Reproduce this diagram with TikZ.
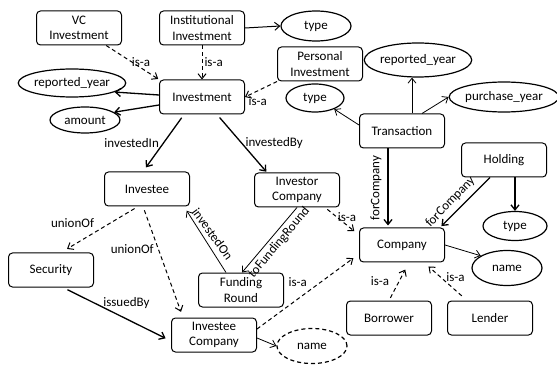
\documentclass[tikz,border=0pt]{standalone}
\usepackage{fontspec}
\setmainfont{Carlito}
\usetikzlibrary{shapes.geometric,arrows.meta}
\begin{document}
\begin{tikzpicture}[x=1pt,y=-1pt,
  font=\fontsize{13}{15.5}\selectfont,
  ent/.style={draw, rounded corners=4pt, line width=1pt, minimum width=85pt, minimum height=34pt, align=center, inner sep=1pt},
  attr/.style={draw, ellipse, line width=1.2pt, inner sep=0pt},
  dattr/.style={attr, dash pattern=on 4pt off 3pt},
  arr/.style={-{Straight Barb[length=5pt,width=8pt]}, line width=1.3pt},
  medarr/.style={-{Straight Barb[length=5pt,width=8pt]}, line width=1pt},
  thinarr/.style={-{Straight Barb[length=5pt,width=8pt]}, line width=0.8pt},
  isa/.style={-{Straight Barb[length=5pt,width=8pt]}, line width=1pt, dash pattern=on 4pt off 3pt},
  lbl/.style={inner sep=1pt, font=\fontsize{13}{14}\selectfont}
]
\useasboundingbox (0,0) rectangle (557,366);
% nodes
\node[ent] (vc) at (79,28) {VC\\Investment};
\node[ent] (inst) at (202,28) {Institutional\\Investment};
\node[attr, minimum width=70pt, minimum height=30pt] (type1) at (316,26) {type};
\node[ent] (pers) at (320,64) {Personal\\Investment};
\node[attr, minimum width=104pt, minimum height=34pt] (ry2) at (418,60) {reported\_year};
\node[attr, minimum width=100pt, minimum height=30pt] (pyear) at (504,97) {purchase\_year};
\node[attr, minimum width=58pt, minimum height=28pt] (type2) at (315,98) {type};
\node[ent] (trans) at (402,131) {Transaction};
\node[ent] (inv) at (202,97) {Investment};
\node[attr, minimum width=103pt, minimum height=28pt] (ry1) at (72,83) {reported\_year};
\node[attr, minimum width=70pt, minimum height=26pt] (amount) at (85,120) {amount};
\node[ent] (investee) at (147,189) {Investee};
\node[ent] (invcomp) at (297,190) {Investor\\Company};
\node[ent] (holding) at (504,160) {Holding};
\node[attr, minimum width=64pt, minimum height=29pt] (type3) at (515,226) {type};
\node[ent] (company) at (402,245) {Company};
\node[attr, minimum width=70pt, minimum height=35pt] (name1) at (507,268) {name};
\node[ent] (security) at (51,270) {Security};
\node[ent] (fr) at (241,290) {Funding\\Round};
\node[ent] (ic) at (214,335) {Investee\\Company};
\node[dattr, minimum width=70pt, minimum height=35pt] (name2) at (312,346) {name};
\node[ent] (borrower) at (389,318) {Borrower};
\node[ent] (lender) at (490,318) {Lender};
% connectors
\draw[isa, shorten >=1pt] (vc) -- (inv.north west) node[lbl, pos=0.62, xshift=2pt, yshift=5pt] {is-a};
\draw[isa] (inst) -- (inv) node[lbl, midway, right=1pt] {is-a};
\draw[isa] (pers.south west) -- (inv.east) node[lbl, pos=0.6, below=4pt] {is-a};
\draw[medarr] (inst.east) -- (type1.west);
\draw[arr] ([yshift=2pt]inv.west) -- (ry1.-12);
\draw[arr] ([yshift=-8pt]inv.west) -- (amount.15);
\draw[arr, shorten <=4pt, shorten >=5pt] ([xshift=-18pt]inv.south) -- ([xshift=-4pt]investee.north) node[lbl, midway, left=3pt] {investedIn};
\draw[arr, shorten <=4pt, shorten >=1pt] ([xshift=15pt]inv.south) -- ([xshift=-30pt]invcomp.north) node[lbl, midway, right=2pt] {investedBy};
\draw[isa, shorten <=4pt, shorten >=7pt] ([xshift=-9pt]investee.south) -- ([xshift=10pt]security.north) node[lbl, midway, above left=0pt, xshift=-4pt] {unionOf};
\draw[isa, shorten <=4pt, shorten >=6pt] ([xshift=-4pt]investee.south) -- ([xshift=-31pt]ic.north) node[lbl, pos=0.38, left=3pt] {unionOf};
\draw[thinarr, shorten >=5pt] ([xshift=-15pt]fr.north) -- ([xshift=-6pt]investee.south east) node[lbl, pos=0.5, rotate=-54, anchor=south, inner sep=4.5pt] {investedOn};
\draw[thinarr] (invcomp.south) -- ([xshift=1pt]fr.north) node[lbl, pos=0.45, rotate=50, anchor=north, inner sep=3pt] {toFundingRound};
\draw[isa, shorten <=3pt, shorten >=6pt] ([xshift=28pt]invcomp.south) -- ([yshift=10pt]company.west) node[lbl, midway, xshift=5pt, yshift=4pt] {is-a};
\draw[isa, shorten >=7pt] ([yshift=6pt]ic.east) -- ([yshift=-9pt]company.west) node[lbl, pos=0.4, yshift=17pt] {is-a};
\draw[arr, shorten >=2pt] ([xshift=-14pt]trans.south) -- ([xshift=-14pt]company.north) node[lbl, midway, rotate=90, anchor=south, inner sep=6pt] {forCompany};
\draw[arr, shorten >=2pt] ([xshift=-14pt]holding.south) -- ([xshift=-5pt]company.north east) node[lbl, pos=0.64, rotate=46, anchor=south, inner sep=4.5pt] {forCompany};
\draw[arr] (holding.south -| type3.north) -- (type3.north);
\draw[thinarr] (company.east) -- (name1.155);
\draw[thinarr] ([yshift=-3pt]ic.east) -- (name2.west);
\draw[arr, shorten <=5pt, shorten >=6pt] ([xshift=12pt]security.south) -- ([yshift=-6pt]ic.west) node[lbl, pos=0.55, xshift=4pt, yshift=14pt] {issuedBy};
\draw[isa, shorten <=3pt, shorten >=8pt] (borrower.north) -- ([xshift=7pt]company.south) node[lbl, midway, xshift=-19pt] {is-a};
\draw[isa, shorten <=7pt, shorten >=6pt] ([xshift=-23pt]lender.north) -- ([xshift=22pt]company.south) node[lbl, midway, xshift=10pt, yshift=4pt] {is-a};
\draw[thinarr] ([xshift=10pt]trans.north) -- ([xshift=-6pt]ry2.south);
\draw[thinarr] ([xshift=20pt]trans.north) -- (pyear.west);
\draw[thinarr] ([yshift=6pt]trans.west) -- (type2.-30);
\end{tikzpicture}
\end{document}
